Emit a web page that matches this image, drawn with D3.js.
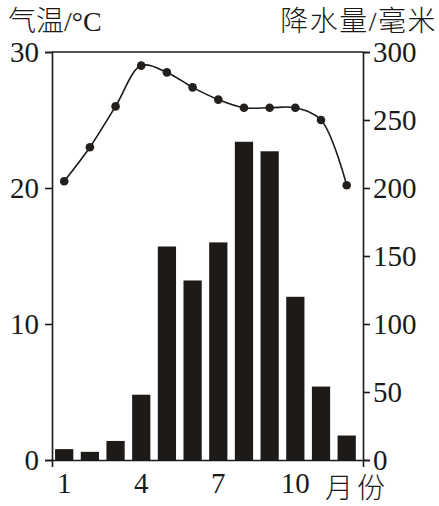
<!DOCTYPE html>
<html>
<head>
<meta charset="utf-8">
<script src="https://cdn.jsdelivr.net/npm/d3@7"></script>
<style>
  html, body { margin: 0; padding: 0; background: #fff; }
  svg text { font-family: 'Liberation Serif', 'Noto Sans CJK SC', serif; fill: #1a1a1a; }
  svg text.cjk { font-weight: 300; }
</style>
</head>
<body>
<div id="chart"></div>
<script>
const months = [1, 2, 3, 4, 5, 6, 7, 8, 9, 10, 11, 12];
const temperature = [20.5, 23, 26, 29, 28.5, 27.4, 26.5, 25.9, 25.9, 25.9, 25, 20.2];
const precipitation = [8, 6, 14, 48, 157, 132, 160, 234, 227, 120, 54, 18];
const monthTicks = [1, 4, 7, 10];
const tempTicks = [0, 10, 20, 30];
const rainTicks = [0, 50, 100, 150, 200, 250, 300];

const width = 439;
const height = 506;
const plotLeft = 52;
const plotRight = 363;
const plotTop = 52;
const plotBottom = 460;
const ink = '#1a1a1a';

const svg = d3.select('#chart')
  .append('svg')
  .attr('width', width)
  .attr('height', height);

const x = d3.scaleBand()
  .domain(months)
  .range([plotLeft, plotRight])
  .paddingInner(0.29)
  .paddingOuter(0.2)
  .align(0.3);

const yTemp = d3.scaleLinear().domain([0, 30]).range([plotBottom, plotTop]);
const yRain = d3.scaleLinear().domain([0, 300]).range([plotBottom, plotTop]);

// bars
svg.append('g')
  .selectAll('rect')
  .data(precipitation)
  .enter()
  .append('rect')
  .attr('x', (d, i) => x(months[i]))
  .attr('y', (d) => yRain(d))
  .attr('width', x.bandwidth())
  .attr('height', (d) => yRain(0) - yRain(d))
  .attr('fill', '#1e1a18');

// top frame line
svg.append('line')
  .attr('x1', plotLeft)
  .attr('x2', plotRight)
  .attr('y1', yTemp(30))
  .attr('y2', yTemp(30))
  .attr('stroke', ink)
  .attr('stroke-width', 1.6);

const styleAxis = (g) => {
  g.selectAll('path, line').attr('stroke', ink).attr('stroke-width', 1.6);
  g.selectAll('text').attr('font-size', 29).attr('fill', ink);
};

svg.append('g')
  .attr('transform', `translate(${plotLeft},0)`)
  .call(d3.axisLeft(yTemp).tickValues(tempTicks).tickSize(7).tickPadding(6))
  .call(styleAxis);

svg.append('g')
  .attr('transform', `translate(${plotRight},0)`)
  .call(d3.axisRight(yRain).tickValues(rainTicks).tickSize(7).tickPadding(3))
  .call(styleAxis);

svg.append('g')
  .attr('transform', `translate(0,${plotBottom})`)
  .call(d3.axisBottom(x).tickValues(monthTicks).tickSizeInner(0).tickSizeOuter(7).tickPadding(12))
  .call(styleAxis);

// temperature curve
const cx = (i) => x(months[i]) + x.bandwidth() / 2;
const line = d3.line()
  .x((d, i) => cx(i))
  .y((d) => yTemp(d))
  .curve(d3.curveCatmullRom.alpha(0.5));

svg.append('path')
  .datum(temperature)
  .attr('d', line)
  .attr('fill', 'none')
  .attr('stroke', ink)
  .attr('stroke-width', 1.6);

svg.append('g')
  .selectAll('circle')
  .data(temperature)
  .enter()
  .append('circle')
  .attr('cx', (d, i) => cx(i))
  .attr('cy', (d) => yTemp(d))
  .attr('r', 4.3)
  .attr('fill', '#231f1d');

// titles
svg.append('text')
  .attr('class', 'cjk')
  .attr('x', 8)
  .attr('y', 31)
  .attr('font-size', 28)
  .text('气温/°C');

svg.append('text')
  .attr('class', 'cjk')
  .attr('x', 437)
  .attr('y', 31)
  .attr('text-anchor', 'end')
  .attr('font-size', 28)
  .attr('letter-spacing', 1.5)
  .text('降水量/毫米');

svg.append('text')
  .attr('class', 'cjk')
  .attr('x', 325)
  .attr('y', 498)
  .attr('font-size', 28)
  .attr('letter-spacing', 4)
  .text('月份');
</script>
</body>
</html>
